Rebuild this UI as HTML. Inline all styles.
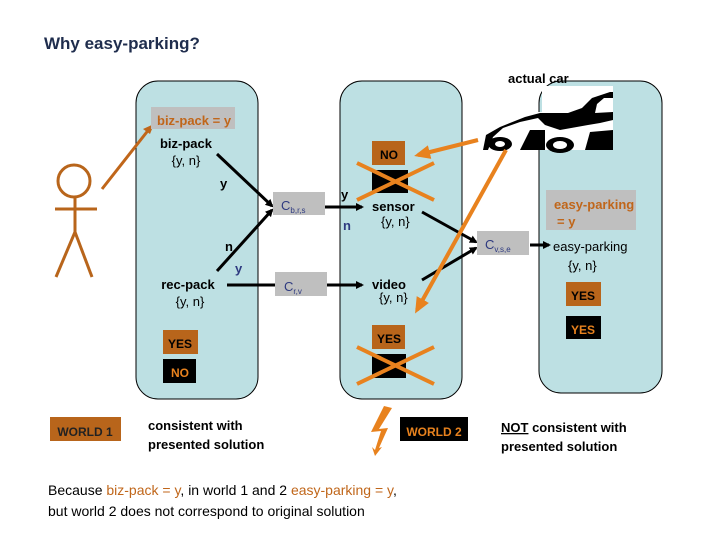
<!DOCTYPE html>
<html><head><meta charset="utf-8"><style>
body{margin:0;background:#fff;}
svg{display:block;}
text{font-family:"Liberation Sans",sans-serif;}
</style></head><body>
<svg width="720" height="540" viewBox="0 0 720 540" xmlns="http://www.w3.org/2000/svg">
<defs>
<marker id="ab" markerWidth="8" markerHeight="8" refX="6" refY="4" orient="auto" markerUnits="userSpaceOnUse"><path d="M0,0 L8,4 L0,8 z" fill="#000"/></marker>
<marker id="ao" markerWidth="16" markerHeight="14" refX="12" refY="7" orient="auto" markerUnits="userSpaceOnUse"><path d="M0,0 L16,7 L0,14 z" fill="#e8821e"/></marker>
</defs>
<text x="44" y="49" font-size="17" font-weight="bold" fill="#1f2d4d">Why easy-parking?</text>
<rect x="136" y="81" width="122" height="318" rx="22" fill="#bde0e3" stroke="#000" stroke-width="1"/>
<rect x="340" y="81" width="122" height="318" rx="22" fill="#bde0e3" stroke="#000" stroke-width="1"/>
<rect x="539" y="81" width="123" height="312" rx="22" fill="#bde0e3" stroke="#000" stroke-width="1"/>
<g stroke="#b8651b" stroke-width="3" fill="none">
<circle cx="74" cy="181" r="16"/>
<line x1="55" y1="209" x2="97" y2="209"/>
<line x1="75" y1="197" x2="75" y2="232"/>
<line x1="75" y1="232" x2="56" y2="277"/>
<line x1="75" y1="232" x2="92" y2="277"/>
</g>
<line x1="102" y1="189" x2="150" y2="128" stroke="#c0661a" stroke-width="3"/>
<path d="M154,124 L143,129 L150,134 z" fill="#c0661a"/>
<rect x="151" y="107" width="84" height="22" fill="#bfbfbf"/>
<text x="157" y="125" font-size="13" font-weight="bold" fill="#c0661a">biz-pack = y</text>
<text x="186" y="148" font-size="13" font-weight="bold" text-anchor="middle">biz-pack</text>
<text x="186" y="165" font-size="13" text-anchor="middle">{y, n}</text>
<text x="220" y="188" font-size="13" font-weight="bold">y</text>
<line x1="217" y1="154" x2="272" y2="206" stroke="#000" stroke-width="3" marker-end="url(#ab)"/>
<line x1="217" y1="271" x2="272" y2="210" stroke="#000" stroke-width="3" marker-end="url(#ab)"/>
<rect x="273" y="192" width="52" height="23" fill="#bfbfbf"/>
<text x="281" y="210" font-size="13" fill="#2e3a80">C<tspan font-size="8" dy="3">b,r,s</tspan></text>
<text x="225" y="251" font-size="13" font-weight="bold">n</text>
<text x="235" y="273" font-size="13" font-weight="bold" fill="#2e3a80">y</text>
<text x="188" y="289" font-size="13" font-weight="bold" text-anchor="middle">rec-pack</text>
<text x="190" y="306" font-size="13" text-anchor="middle">{y, n}</text>
<line x1="227" y1="285" x2="275" y2="285" stroke="#000" stroke-width="3"/>
<rect x="275" y="272" width="52" height="24" fill="#bfbfbf"/>
<text x="284" y="291" font-size="13" fill="#2e3a80">C<tspan font-size="8" dy="3">r,v</tspan></text>
<line x1="327" y1="285" x2="362" y2="285" stroke="#000" stroke-width="3" marker-end="url(#ab)"/>
<line x1="325" y1="207" x2="362" y2="207" stroke="#000" stroke-width="3" marker-end="url(#ab)"/>
<rect x="163" y="330" width="35" height="24" fill="#b8651b"/>
<text x="180" y="348" font-size="12" font-weight="bold" text-anchor="middle">YES</text>
<rect x="163" y="359" width="33" height="24" fill="#000"/>
<text x="180" y="377" font-size="12" font-weight="bold" text-anchor="middle" fill="#e8821e">NO</text>
<text x="341" y="199" font-size="13" font-weight="bold">y</text>
<text x="343" y="230" font-size="13" font-weight="bold" fill="#2e3a80">n</text>
<rect x="372" y="141" width="33" height="24" fill="#b8651b"/>
<text x="389" y="159" font-size="12" font-weight="bold" text-anchor="middle">NO</text>
<rect x="372" y="170" width="36" height="23" fill="#000"/>
<text x="372" y="211" font-size="13" font-weight="bold">sensor</text>
<text x="381" y="226" font-size="13">{y, n}</text>
<text x="372" y="289" font-size="13" font-weight="bold">video</text>
<text x="379" y="302" font-size="13">{y, n}</text>
<rect x="372" y="325" width="33" height="24" fill="#b8651b"/>
<text x="389" y="343" font-size="12" font-weight="bold" text-anchor="middle">YES</text>
<rect x="372" y="354" width="34" height="24" fill="#000"/>
<g stroke="#e8821e" stroke-width="4">
<line x1="357" y1="163" x2="434" y2="200"/><line x1="357" y1="200" x2="434" y2="163"/>
<line x1="357" y1="347" x2="434" y2="384"/><line x1="357" y1="384" x2="434" y2="347"/>
</g>
<line x1="422" y1="212" x2="476" y2="242" stroke="#000" stroke-width="3" marker-end="url(#ab)"/>
<line x1="422" y1="280" x2="476" y2="248" stroke="#000" stroke-width="3" marker-end="url(#ab)"/>
<rect x="477" y="231" width="52" height="24" fill="#bfbfbf"/>
<text x="485" y="249" font-size="13" fill="#2e3a80">C<tspan font-size="8" dy="3">v,s,e</tspan></text>
<line x1="530" y1="245" x2="549" y2="245" stroke="#000" stroke-width="3" marker-end="url(#ab)"/>
<rect x="546" y="190" width="90" height="40" fill="#bfbfbf"/>
<text x="554" y="209" font-size="13" font-weight="bold" fill="#c0661a">easy-parking</text>
<text x="557" y="226" font-size="13" font-weight="bold" fill="#c0661a">= y</text>
<text x="553" y="251" font-size="13">easy-parking</text>
<text x="568" y="270" font-size="13">{y, n}</text>
<rect x="566" y="282" width="35" height="24" fill="#b8651b"/>
<text x="583" y="300" font-size="12" font-weight="bold" text-anchor="middle">YES</text>
<rect x="566" y="316" width="35" height="23" fill="#000"/>
<text x="583" y="334" font-size="12" font-weight="bold" text-anchor="middle" fill="#e8821e">YES</text>
<text x="508" y="83" font-size="13" font-weight="bold">actual car</text>
<path d="M542,86 L613,86 L613,150 L482,150 L482,112 L542,112 z" fill="#fff"/>
<g fill="#000">
<path d="M483,150 L486,135 L500,127 L525,117 L540,113 L568,113 L582,108 L592,98 L610,92 L613,92 L613,120 L600,123 L588,125 L560,130 L545,125 L538,118 L520,122 L503,128 L493,137 L488,150 z"/>
<path d="M597,104 L604,98 L613,98 L613,112 L595,113 z" fill="#fff"/>
<ellipse cx="500" cy="144" rx="12" ry="7"/>
<ellipse cx="500" cy="144" rx="5" ry="3" fill="#fff"/>
<ellipse cx="560" cy="145" rx="14" ry="8"/>
<ellipse cx="560" cy="145" rx="7" ry="4" fill="#fff"/>
<path d="M520,150 L530,130 L545,130 L545,150 z"/>
<path d="M585,150 L590,132 L613,130 L613,150 z"/>
</g>
<line x1="478" y1="140" x2="418" y2="155" stroke="#e8821e" stroke-width="4" marker-end="url(#ao)"/>
<line x1="506" y1="150" x2="417" y2="310" stroke="#e8821e" stroke-width="4" marker-end="url(#ao)"/>
<rect x="50" y="417" width="71" height="24" fill="#b8651b"/>
<text x="85" y="436" font-size="12" font-weight="bold" text-anchor="middle" fill="#222">WORLD 1</text>
<text x="148" y="430" font-size="13" font-weight="bold">consistent with</text>
<text x="148" y="449" font-size="13" font-weight="bold">presented solution</text>
<path d="M392,408 L384,406 L371,432 L381,431 L375,450 L372,447 L375,456 L382,447 L379,448 L388,428 L379,429 z" fill="#e8821e"/>
<rect x="400" y="417" width="68" height="24" fill="#000"/>
<text x="434" y="436" font-size="12" font-weight="bold" text-anchor="middle" fill="#e8821e">WORLD 2</text>
<text x="501" y="432" font-size="13" font-weight="bold"><tspan text-decoration="underline">NOT</tspan> consistent with</text>
<text x="501" y="451" font-size="13" font-weight="bold">presented solution</text>
<text x="48" y="495" font-size="14">Because <tspan fill="#c0661a">biz-pack = y</tspan>, in world 1 and 2 <tspan fill="#c0661a">easy-parking  = y</tspan>,</text>
<text x="48" y="516" font-size="14">but world 2 does not correspond to original solution</text>
</svg>
</body></html>
